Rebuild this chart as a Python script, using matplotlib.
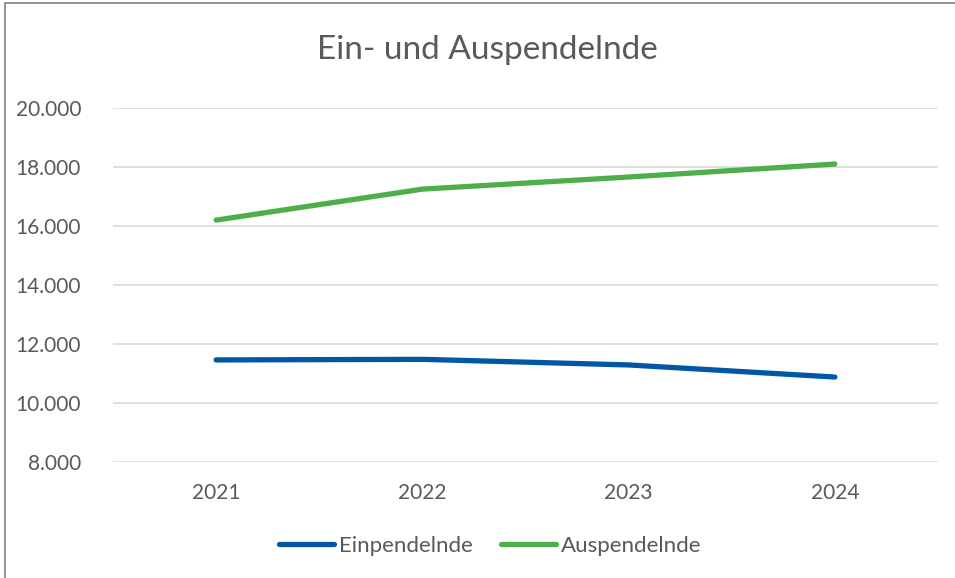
import numpy as np
from matplotlib import pyplot as plt
from matplotlib.patches import Rectangle
from matplotlib.ticker import FuncFormatter

years = ["2021", "2022", "2023", "2024"]
einpendelnde = [11460, 11480, 11290, 10880]
auspendelnde = [16200, 17250, 17660, 18100]

TEXT = "#595959"
plt.rcParams["font.family"] = ["Lato", "DejaVu Sans"]

fig = plt.figure(figsize=(9.55, 5.78), dpi=100)
W, H = 955, 578
ax = fig.add_axes([113 / W, 1 - 462 / H, (938 - 113) / W, (462 - 108) / H])

x = np.arange(len(years))
ax.plot(x, einpendelnde, color="#0057A3", lw=3.8, solid_capstyle="round",
        label="Einpendelnde")
ax.plot(x, auspendelnde, color="#4EAE4A", lw=3.8, solid_capstyle="round",
        label="Auspendelnde")

ax.set_xlim(-0.5, 3.5)
ax.set_ylim(8000, 20000)
ax.set_yticks(np.arange(8000, 20001, 2000))
ax.yaxis.set_major_formatter(FuncFormatter(lambda v, p: f"{int(v):,}".replace(",", ".")))
ax.set_xticks(x)
ax.set_xticklabels(years)
ax.grid(axis="y", color="#D9D9D9", lw=1.2)
ax.set_axisbelow(True)
for s in ax.spines.values():
    s.set_visible(False)
ax.tick_params(length=0, colors=TEXT, labelsize=15)
ax.tick_params(axis="y", pad=23)
ax.tick_params(axis="x", pad=15)

fig.text(487 / W, 1 - 50 / H, "Ein- und Auspendelnde", ha="center", va="center",
         fontsize=24, color=TEXT)

fig.legend(loc="center", bbox_to_anchor=(490 / W, 1 - 546 / H), ncol=2,
           frameon=False, fontsize=16, labelcolor=TEXT, handlelength=2.5,
           handletextpad=0.2, columnspacing=1.25)

fig.patches.append(Rectangle((5 / W, -0.01), 1.1, 1 - 3 / H + 0.01, transform=fig.transFigure,
                             fill=False, edgecolor="#7F7F7F", lw=1.2))

fig.savefig("out.png", dpi=100)
